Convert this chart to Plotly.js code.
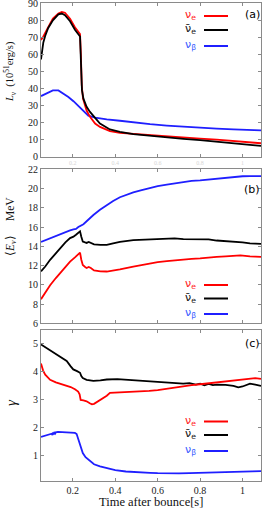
<!DOCTYPE html>
<html>
<head>
<meta charset="utf-8">
<script src="https://cdn.plot.ly/plotly-3.0.1.min.js"></script>
<style>html,body{margin:0;padding:0;background:#fff;}#chart{width:264px;height:508px;}</style>
</head>
<body>
<div id="chart"></div>
<script>
// ---------- Data ----------
// Panel (a): luminosity L_nu [10^51 erg/s]
const tA_nue  = [0.05,0.061,0.084,0.106,0.132,0.148,0.163,0.187,0.21,0.234,0.238,0.242,0.248,0.256,0.265,0.281,0.305,0.328,0.375,0.422,0.485,0.564,0.643,0.721,0.80,0.878,0.957,1.035,1.087];
const L_nue   = [68.5,70.5,76,81,84,85,84.5,81,76,72,60,42,34,30,27,23.3,19.4,17.4,14.9,13.9,13.3,12.4,11.7,11.0,10.5,9.9,9.2,8.4,7.8];
const tA_anue = [0.05,0.055,0.061,0.07,0.084,0.106,0.132,0.148,0.163,0.187,0.21,0.234,0.238,0.243,0.25,0.258,0.265,0.281,0.305,0.328,0.375,0.422,0.485,0.564,0.643,0.721,0.80,0.878,0.957,1.035,1.087];
const L_anue  = [57,63,67,71,75.5,80,83.5,84,83,79.5,74.5,70.5,52,39,34,31,29.2,26.2,22.4,19.4,15.9,14.5,13.1,12.1,11.2,10.4,9.6,8.8,7.6,6.8,6.2];
const tA_nub  = [0.05,0.075,0.106,0.132,0.155,0.179,0.203,0.219,0.234,0.25,0.273,0.305,0.33,0.36,0.422,0.485,0.564,0.643,0.721,0.80,0.878,0.957,1.035,1.087];
const L_nub   = [35.5,37,38.8,38.8,37,35,32.5,30.5,29,26.5,24,22.8,22.3,21.8,21,20,19,18.2,17.5,16.9,16.4,15.9,15.5,15.3];

// Panel (b): mean energy <E_nu> [MeV]
const tB_nue  = [0.05,0.07,0.093,0.12,0.14,0.165,0.187,0.21,0.234,0.24,0.247,0.258,0.265,0.275,0.285,0.3,0.33,0.36,0.39,0.422,0.485,0.52,0.564,0.6,0.643,0.68,0.721,0.76,0.80,0.84,0.878,0.92,0.957,0.99,1.035,1.087];
const E_nue   = [8.5,9.2,9.95,10.7,11.2,11.9,12.4,12.85,13.35,12.6,12.05,11.85,11.75,11.85,11.75,11.5,11.4,11.38,11.45,11.6,11.9,12.05,12.2,12.35,12.45,12.55,12.65,12.7,12.75,12.85,12.9,12.95,13.0,13.05,12.95,12.9];
const tB_anue = [0.05,0.07,0.093,0.12,0.14,0.165,0.187,0.203,0.215,0.234,0.24,0.247,0.258,0.265,0.275,0.285,0.3,0.33,0.36,0.39,0.422,0.485,0.564,0.643,0.68,0.721,0.76,0.80,0.84,0.878,0.92,0.957,1.0,1.035,1.087];
const E_anue  = [11.4,11.9,12.6,13.3,13.8,14.4,14.85,15.0,15.2,15.55,15.0,14.5,14.4,14.35,14.45,14.35,14.2,14.15,14.15,14.3,14.45,14.65,14.75,14.8,14.82,14.75,14.72,14.7,14.72,14.6,14.55,14.45,14.4,14.3,14.25];
const tB_nub  = [0.05,0.093,0.14,0.187,0.203,0.215,0.226,0.24,0.25,0.265,0.281,0.297,0.328,0.36,0.39,0.422,0.45,0.485,0.52,0.564,0.6,0.643,0.68,0.721,0.76,0.80,0.84,0.878,0.92,0.957,1.0,1.035,1.087];
const E_nub   = [14.45,14.85,15.25,15.65,15.75,15.8,16.0,16.15,16.3,16.6,16.95,17.25,17.8,18.3,18.7,19.1,19.35,19.6,19.8,20.05,20.25,20.4,20.55,20.7,20.8,20.85,20.95,21.05,21.15,21.2,21.28,21.3,21.3];

// Panel (c): spectral shape parameter gamma
const tC_nue  = [0.05,0.06,0.07,0.093,0.12,0.14,0.17,0.19,0.21,0.225,0.232,0.237,0.25,0.265,0.28,0.29,0.3,0.33,0.36,0.375,0.4,0.45,0.5,0.56,0.6,0.643,0.68,0.72,0.76,0.80,0.84,0.88,0.92,0.957,1.0,1.035,1.06,1.087];
const G_nue   = [4.3,4.05,3.9,3.72,3.63,3.58,3.5,3.46,3.38,3.3,3.2,3.0,2.98,2.95,2.88,2.84,2.86,3.0,3.15,3.25,3.26,3.27,3.28,3.32,3.35,3.4,3.45,3.48,3.53,3.56,3.59,3.62,3.65,3.69,3.72,3.76,3.78,3.75];
const tC_anue = [0.05,0.07,0.093,0.12,0.14,0.171,0.19,0.202,0.22,0.234,0.24,0.247,0.265,0.297,0.33,0.36,0.41,0.45,0.5,0.56,0.6,0.643,0.68,0.72,0.75,0.78,0.80,0.82,0.84,0.86,0.88,0.92,0.957,0.98,1.0,1.035,1.06,1.087];
const G_anue  = [4.98,4.88,4.78,4.66,4.56,4.39,4.2,4.09,4.03,3.97,3.85,3.78,3.72,3.68,3.7,3.73,3.74,3.72,3.7,3.68,3.65,3.64,3.6,3.58,3.6,3.55,3.58,3.52,3.57,3.53,3.55,3.54,3.5,3.45,3.48,3.58,3.55,3.5];
const tC_nub  = [0.05,0.07,0.09,0.1,0.104,0.107,0.11,0.113,0.117,0.12,0.13,0.15,0.17,0.19,0.21,0.218,0.226,0.234,0.247,0.26,0.281,0.3,0.328,0.36,0.4,0.45,0.5,0.564,0.6,0.643,0.7,0.75,0.8,0.85,0.9,0.957,1.0,1.05,1.087];
const G_nub   = [1.68,1.72,1.76,1.79,1.74,1.84,1.76,1.85,1.8,1.84,1.86,1.85,1.84,1.83,1.82,1.78,1.6,1.35,1.1,0.95,0.8,0.7,0.62,0.55,0.49,0.44,0.41,0.39,0.38,0.37,0.37,0.38,0.39,0.4,0.4,0.41,0.42,0.44,0.45];

// Tick labels
const xTickVals = [0.2,0.4,0.6,0.8,1];
const xTickText = ["0.2","0.4","0.6","0.8","1"];
const legendLabels = ["ν<sub>e</sub>","ν̄<sub>e</sub>","ν<sub>β</sub>"];
const panelLabels = ["(a)","(b)","(c)"];

// ---------- Styling ----------
const RED = "#ff0000", BLACK = "#000000", BLUE = "#1f1fff";
const LEG_TXT = ["#ff1a1a","#111111","#3a5cff"];
const W = 264, H = 508;
const px = v => v / W;          // x pixel -> paper
const py = v => 1 - v / H;      // y pixel -> paper

function tr(x, y, color, xa, ya) {
  return {x: x, y: y, type: "scatter", mode: "lines", xaxis: xa, yaxis: ya,
          line: {color: color, width: 1.8}, showlegend: false, hoverinfo: "skip"};
}

const data = [
  tr(tA_nub, L_nub, BLUE, "x", "y"),
  tr(tA_nue, L_nue, RED, "x", "y"),
  tr(tA_anue, L_anue, BLACK, "x", "y"),
  tr(tB_nub, E_nub, BLUE, "x2", "y2"),
  tr(tB_anue, E_anue, BLACK, "x2", "y2"),
  tr(tB_nue, E_nue, RED, "x2", "y2"),
  tr(tC_nub, G_nub, BLUE, "x3", "y3"),
  tr(tC_anue, G_anue, BLACK, "x3", "y3"),
  tr(tC_nue, G_nue, RED, "x3", "y3")
];

const FRAME = "#8a8a8a";
const tickFont = {family: "Liberation Serif, serif", size: 10, color: "#222"};
function xax(anchor, showLabels, labelColor, size) {
  return {domain: [px(41), px(261)], range: [0.05, 1.087], anchor: anchor,
          tickvals: xTickVals, ticktext: xTickText, ticks: "inside", ticklen: 3,
          tickcolor: FRAME, showline: true, linecolor: FRAME, linewidth: 1, mirror: "ticks",
          showgrid: false, zeroline: false, showticklabels: showLabels,
          tickfont: {family: "Liberation Serif, serif", size: size, color: labelColor}};
}
function yax(anchor, dom, range, dtick) {
  return {domain: dom, range: range, anchor: anchor, dtick: dtick, tick0: 0,
          ticks: "inside", ticklen: 3, tickcolor: FRAME, showline: true, linecolor: FRAME,
          linewidth: 1, mirror: "ticks", showgrid: false, zeroline: false, tickfont: tickFont,
          ticklabeloverflow: "allow"};
}

const legY = [[16, 30, 46], [285, 298.5, 314], [421.5, 435, 451]];
const legColors = [RED, BLACK, BLUE];
const annotations = [];
const shapes = [];
legY.forEach((ys, p) => {
  ys.forEach((yy, i) => {
    annotations.push({xref: "paper", yref: "paper", x: px(198), y: py(yy - 1), xanchor: "right", yanchor: "middle",
      text: legendLabels[i], showarrow: false, font: {family: "DejaVu Sans, sans-serif", size: 11, color: LEG_TXT[i]}});
    shapes.push({type: "line", xref: "paper", yref: "paper", x0: px(204), x1: px(228), y0: py(yy), y1: py(yy),
      line: {color: legColors[i], width: 2}});
  });
});
const labY = [15, 189, 343];
labY.forEach((yy, p) => {
  annotations.push({xref: "paper", yref: "paper", x: px(252), y: py(yy), xanchor: "center", yanchor: "middle",
    text: panelLabels[p], showarrow: false, font: {family: "DejaVu Sans, sans-serif", size: 11, color: "#000"}});
});
// axis titles
const serif = "Liberation Serif, serif";
annotations.push({xref: "paper", yref: "paper", x: px(10), y: py(72), xanchor: "center", yanchor: "middle", textangle: -90,
  text: "<i>L<sub>ν</sub></i>  (10<sup>51</sup>erg/s)", showarrow: false, font: {family: serif, size: 10.5, color: "#111"}});
annotations.push({xref: "paper", yref: "paper", x: px(11), y: py(227), xanchor: "center", yanchor: "middle", textangle: -90,
  text: "⟨<i>E<sub>ν</sub></i>⟩     MeV", showarrow: false, font: {family: serif, size: 11.5, color: "#111"}});
annotations.push({xref: "paper", yref: "paper", x: px(11), y: py(403), xanchor: "center", yanchor: "middle", textangle: -90,
  text: "<i>γ</i>", showarrow: false, font: {family: serif, size: 15, color: "#111"}});
annotations.push({xref: "paper", yref: "paper", x: px(151), y: py(502), xanchor: "center", yanchor: "middle",
  text: "Time after bounce[s]", showarrow: false, font: {family: serif, size: 12.5, color: "#111"}});

const layout = {
  width: W, height: H, margin: {l: 0, r: 0, t: 0, b: 0},
  paper_bgcolor: "#fff", plot_bgcolor: "#fff", showlegend: false,
  xaxis: xax("y", true, "#d6d6d6", 6),
  xaxis2: xax("y2", false, "#d6d6d6", 6),
  xaxis3: xax("y3", true, "#222", 10),
  yaxis: yax("x", [py(156.5), py(3)], [0, 90.2], 10),
  yaxis2: yax("x2", [py(323.3), py(169.3)], [6, 22], 2),
  yaxis3: yax("x3", [py(481), py(330)], [0.1, 5.5], 1),
  annotations: annotations, shapes: shapes
};

Plotly.newPlot("chart", data, layout, {staticPlot: true, displayModeBar: false});
</script>
</body>
</html>
